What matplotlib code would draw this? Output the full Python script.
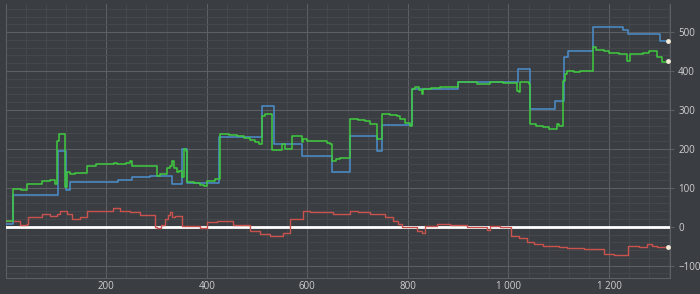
import matplotlib
matplotlib.use("Agg")
import matplotlib.pyplot as plt
from matplotlib.ticker import MultipleLocator, FuncFormatter

# Blue series (step line)
blue_x = [0, 14.5, 105, 120.5, 128, 224, 251, 288, 331, 350, 360, 425, 510, 533, 590, 650,
          685, 739, 749, 808, 900, 1019, 1043, 1093, 1110, 1118, 1168, 1228, 1238, 1302, 1318]
blue_y = [8, 82, 195, 94, 116, 120, 127, 131, 111, 200, 113, 230, 310, 212, 181, 140,
          234, 195, 261, 354, 373, 405, 302, 324, 435, 452, 514, 506, 495, 478, 478]

# Green series (noisy trace)
green_x = [0, 14.5, 30, 42, 72, 89, 99, 103, 107, 118.5, 122, 128, 138, 162, 180, 201, 215, 221,
           240, 248, 251, 270, 294, 301, 307, 321, 327, 331, 334, 340, 344, 350, 354, 358, 360,
           375, 387, 395, 400, 417, 427, 445, 460, 475, 486, 496, 503, 510, 515, 529, 540, 549,
           556, 569, 580, 589, 592, 599, 620, 639, 645, 649, 657, 665, 685, 700, 715, 725, 738,
           748, 765, 778, 785, 795, 804, 808, 815, 822, 828, 831, 845, 864, 880, 900, 937, 963,
           990, 1016, 1020, 1023, 1040, 1043, 1055, 1069, 1080, 1090, 1096, 1100, 1109, 1112,
           1116, 1130, 1142, 1168, 1175, 1189, 1200, 1220, 1235, 1242, 1268, 1280, 1295, 1305, 1318]
green_y = [15, 98, 94, 111, 118, 121, 110, 221, 238, 101, 140, 135, 137, 157, 160, 160, 165, 162,
           163, 170, 157, 157, 155, 131, 135, 150, 157, 170, 150, 140, 144, 129, 200, 195, 114,
           112, 108, 105, 118, 123, 238, 236, 233, 229, 222, 218, 212, 285, 290, 197, 198, 213,
           200, 234, 232, 217, 226, 221, 220, 216, 212, 170, 173, 176, 277, 275, 271, 264, 225,
           290, 288, 284, 276, 266, 260, 354, 358, 352, 341, 354, 356, 358, 360, 373, 367, 372,
           370, 350, 345, 371, 368, 264, 260, 257, 252, 251, 264, 258, 375, 392,
           401, 398, 401, 461, 455, 452, 447, 444, 427, 444, 447, 452, 435, 424, 427]

# Red series (difference trace)
red_x = [0, 29, 42, 45.5, 72, 89, 102, 108.5, 122, 132, 148, 162, 188, 214.5, 228, 248, 268, 297,
         301, 310, 317, 322, 327, 331, 337, 350.5, 357, 387, 400, 420, 453, 486, 506, 526, 552,
         566, 592, 606, 652, 685, 700, 725, 755, 771, 780, 788, 818, 828, 834, 857, 884, 917,
         957, 963, 983, 1006, 1020, 1036, 1050, 1069, 1100, 1116, 1122, 1150, 1189, 1210, 1238,
         1260, 1275, 1285, 1295, 1318]
red_y = [15, 4, 8, 26, 33, 28, 33, 41, 33, 20, 24, 41, 41, 48, 41, 37, 30, 0,
         -2, 5, 20, 30, 39, 24, 28, 2, 2, -4, 11, 15, 5, -10, -19, -23, -15,
         20, 41, 37, 33, 41, 37, 33, 26, 15, 6, 0, -10, -15, 2, 7, 4, 0,
         -8, 2, 0, -23, -30, -38, -44, -50, -53, -55, -55, -57, -70, -72, -49,
         -52, -45, -50, -53, -51]

x_ticks = [200, 400, 600, 800, 1000, 1200]
y_ticks = [-100, 0, 100, 200, 300, 400, 500]

BG = "#3a3d41"
fig = plt.figure(figsize=(7.0, 2.94), dpi=100, facecolor=BG)
ax = fig.add_axes([0.008, 0.054, 0.949, 0.932])
ax.set_facecolor(BG)

ax.set_xlim(0, 1321)
ax.set_ylim(-132, 572)

ax.xaxis.set_minor_locator(MultipleLocator(40))
ax.yaxis.set_minor_locator(MultipleLocator(20))
ax.set_xticks(x_ticks)
ax.set_yticks(y_ticks)
ax.grid(which="major", color="#5c5f63", linewidth=0.8)
ax.grid(which="minor", color="#47494d", linewidth=0.6)
ax.set_axisbelow(True)

ax.xaxis.set_major_formatter(FuncFormatter(lambda v, p: f"{int(v):,}".replace(",", " ")))
ax.yaxis.tick_right()
ax.tick_params(axis="both", which="major", colors="#5c5f63", labelcolor="#cfd0d2",
               labelsize=7, length=3, width=0.8)
ax.tick_params(axis="x", which="major", length=0, pad=2)
ax.tick_params(axis="y", which="major", pad=3)
ax.tick_params(which="minor", length=0)
for lab in ax.get_xticklabels() + ax.get_yticklabels():
    lab.set_fontfamily("Open Sans")

for s in ["left", "bottom", "right"]:
    ax.spines[s].set_color("#5c5f63")
    ax.spines[s].set_linewidth(0.8)
ax.spines["top"].set_visible(False)

ax.axhline(0, color="white", linewidth=2.0, zorder=3)

ax.step(red_x, red_y, where="post", color="#c9524f", linewidth=1.0, zorder=4)
ax.step(blue_x, blue_y, where="post", color="#4a8fcc", linewidth=1.1, zorder=4)
ax.step(green_x, green_y, where="post", color="#3fcb3f", linewidth=1.1, zorder=5)

for xs, ys in [(blue_x, blue_y), (green_x, green_y), (red_x, red_y)]:
    ax.plot(xs[-1], ys[-1], marker="o", markersize=3.5, color="#f3ecd6",
            markeredgewidth=0, zorder=6, clip_on=False)

fig.savefig("out.png", dpi=100, facecolor=BG)
